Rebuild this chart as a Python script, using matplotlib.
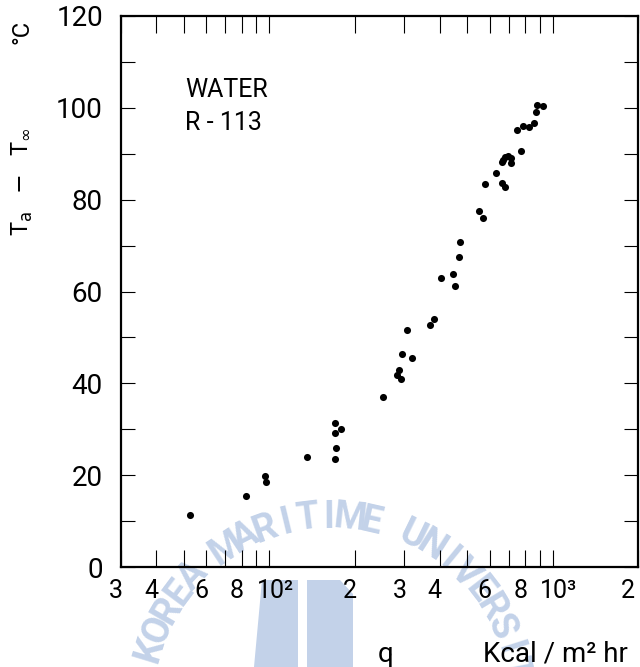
import matplotlib
matplotlib.use("Agg")
import matplotlib.pyplot as plt
import matplotlib.transforms as mtransforms
from matplotlib.patches import Polygon
import numpy as np

# heat flux q (Kcal/m2 hr) and wall superheat (deg C)
q_flux = [52.5, 82.6, 96.6, 97.4, 135.8, 170.1, 178.5, 171.0, 171.5, 170.6,
          251, 287.8, 282.7, 292, 294.6, 318, 305.9, 367.7, 380,
          403.5, 446, 451, 466, 470.6, 551, 570, 579, 632, 663, 680,
          669, 678, 697, 711, 712, 665, 773, 750, 786, 822, 860, 871, 879, 922]
dT = [11.3, 15.4, 19.8, 18.5, 24.0, 31.3, 30.1, 29.2, 26.0, 23.6,
      37.0, 42.9, 41.8, 41.0, 46.3, 45.5, 51.6, 52.8, 54.0,
      63.0, 63.8, 61.1, 67.6, 70.7, 77.6, 76.0, 83.4, 85.9, 83.6, 82.7,
      88.7, 89.4, 89.5, 89.0, 87.9, 88.3, 90.6, 95.1, 96.1, 95.8, 96.7, 99.0, 100.6, 100.3]

xtick_vals = [30, 40, 60, 80, 100, 200, 300, 400, 600, 800, 1000, 2000]
xtick_text = ["3", "4", "6", "8", "10²", "2", "3", "4", "6", "8", "10³", "2"]
ytick_vals = [0, 20, 40, 60, 80, 100, 120]

thin = ["Roboto", "DejaVu Sans"]
wm_color = "#c3d2e9"

W, H = 640, 667
fig = plt.figure(figsize=(W / 100, H / 100), dpi=100)

def fx(px):
    return px / W

def fy(py):
    return 1 - py / H

# university watermark, kept underneath everything else
for pts in ([(262, 580), (298, 580), (298, 667), (254, 667)],
            [(307, 580), (340, 580), (353, 594), (353, 667), (307, 667)]):
    fig.patches.append(Polygon([(fx(a), fy(b)) for a, b in pts], closed=True,
                               transform=fig.transFigure, facecolor=wm_color,
                               edgecolor="none", zorder=-5))
name = "KOREA MARITIME UNIVERSITY"
cx, cy, r = 330, 705, 188
for i, ch in enumerate(name):
    ang = np.deg2rad(163 - 6.6 * i)
    px = cx + r * np.cos(ang)
    py = cy - r * np.sin(ang)
    fig.text(fx(px), fy(py), ch, rotation=np.rad2deg(ang) - 90,
             ha="center", va="center", fontsize=27, fontweight="bold",
             family=thin, color=wm_color, zorder=-5,
             rotation_mode="anchor")

ax = fig.add_axes([fx(121), fy(567), fx(638) - fx(121), fy(16) - fy(567)])
ax.patch.set_alpha(0)
ax.set_xscale("log")
ax.set_xlim(30, 1950)
ax.set_ylim(0, 120)

ax.scatter(q_flux, dT, s=26, color="black", zorder=3, linewidths=0)

for sp in ax.spines.values():
    sp.set_linewidth(1.6)

ax.set_xticks(xtick_vals)
ax.set_xticklabels(xtick_text, family=thin, fontsize=18)
ax.xaxis.set_minor_locator(matplotlib.ticker.LogLocator(base=10, subs=np.arange(2, 10)))
ax.xaxis.set_minor_formatter(matplotlib.ticker.NullFormatter())
ax.tick_params(axis="x", which="both", direction="in", length=12, width=0.8,
               top=True, pad=9)
# hand-lettered labels sit a little left of their ticks; decades sit right
for lab in ax.get_xticklabels():
    txt = lab.get_text()
    shift = 6 if txt.startswith("10") else -5
    if txt == "2" and lab.get_position()[0] > 1500:
        shift = -10
    off = mtransforms.ScaledTranslation(shift / 100, 0, fig.dpi_scale_trans)
    lab.set_transform(lab.get_transform() + off)

ax.set_yticks(ytick_vals)
ax.set_yticklabels([str(v) for v in ytick_vals], family=thin, fontsize=20)
ax.set_yticks(np.arange(10, 120, 20), minor=True)
ax.tick_params(axis="y", which="both", direction="in", length=10, width=0.8,
               right=True, pad=13)

ax.text(0.124, 0.853, "WATER", transform=ax.transAxes, fontsize=18,
        family=thin, va="baseline", ha="left")
ax.text(0.124, 0.793, "R - 113", transform=ax.transAxes, fontsize=18,
        family=thin, va="baseline", ha="left")

fig.text(fx(22), fy(182), r"T$_\mathrm{a}$   $-$   T$_{\infty}$", rotation=90,
         ha="center", va="center", fontsize=17, family=thin)
fig.text(fx(22), fy(32), "°C", rotation=90, ha="center", va="center",
         fontsize=17, family=thin)

fig.text(fx(386), fy(654), "q", ha="center", va="center", fontsize=20, family=thin)
fig.text(fx(483), fy(654), "Kcal / m² hr", ha="left", va="center", fontsize=20,
         family=thin)

fig.savefig("out.png", dpi=100)
